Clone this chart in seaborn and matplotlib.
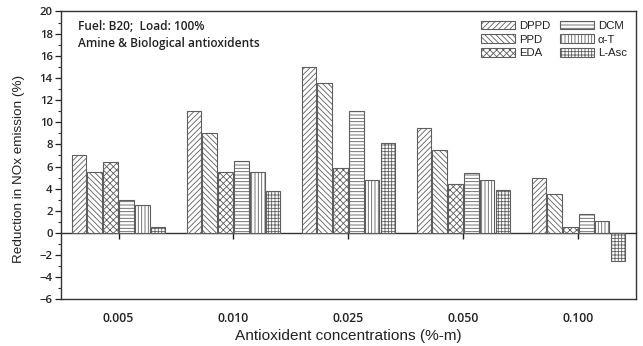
import numpy as np
import pandas as pd
import matplotlib
matplotlib.use("Agg")
import matplotlib.pyplot as plt
from matplotlib.ticker import MultipleLocator
import seaborn as sns

concentrations = ["0.005", "0.010", "0.025", "0.050", "0.100"]
additives = ["DPPD", "PPD", "EDA", "DCM", "\u03b1-T", "L-Asc"]
dppd = [7.0, 11.0, 15.0, 9.45, 5.0]
ppd = [5.5, 9.0, 13.5, 7.5, 3.5]
eda = [6.4, 5.5, 5.85, 4.45, 0.5]
dcm = [3.0, 6.5, 11.0, 5.45, 1.75]
alpha_t = [2.5, 5.5, 4.75, 4.75, 1.05]
l_asc = [0.5, 3.75, 8.15, 3.85, -2.5]
yticks = list(range(-6, 21, 2))

series = [dppd, ppd, eda, dcm, alpha_t, l_asc]
hatches = ["//////", "\\\\\\\\\\\\", "xxxxx", "-----", "|||||", "+++++"]

rows = []
for name, vals in zip(additives, series):
    for c, v in zip(concentrations, vals):
        rows.append({"conc": c, "additive": name, "value": v})
df = pd.DataFrame(rows)

sns.set_style("ticks")
plt.rcParams["hatch.linewidth"] = 0.6
edge = "#5e5e5e"

fig = plt.figure(figsize=(6.43, 3.46), dpi=100)
ax = fig.add_axes([0.0949, 0.1344, 0.8941, 0.8324])

sns.barplot(data=df, x="conc", y="value", hue="additive", order=concentrations,
            hue_order=additives, palette=["white"] * 6, width=0.83, gap=0.1,
            edgecolor=edge, linewidth=0.8, ax=ax, legend=False)

for cont, h in zip(ax.containers, hatches):
    for p in cont:
        p.set_hatch(h)
        p.set_edgecolor(edge)

ax.set_xlim(-0.5, 4.5)
ax.set_ylim(-6, 20)
ax.set_yticks(yticks)
ax.yaxis.set_minor_locator(MultipleLocator(1))
for s in ax.spines.values():
    s.set_visible(True)
    s.set_linewidth(1.0)
    s.set_color("#333333")

ax.tick_params(axis="y", which="major", direction="out", length=4, width=0.9,
               labelsize=8.2, pad=2, colors="#222222")
ax.tick_params(axis="y", which="minor", direction="out", length=2.5, width=0.8, colors="#333333")
ax.tick_params(axis="x", which="both", length=0, labelsize=8.8, pad=9, colors="#222222")
for lab in ax.get_xticklabels() + ax.get_yticklabels():
    lab.set_fontfamily("Open Sans")
    lab.set_fontweight("semibold")

# zero line with ticks at the group centres
zero_frac = (0 - ax.get_ylim()[0]) / (ax.get_ylim()[1] - ax.get_ylim()[0])
sec = ax.secondary_xaxis(zero_frac)
sec.set_xticks(range(len(concentrations)))
sec.set_xticklabels([])
sec.tick_params(direction="out", length=4, width=1.0, colors="#222222")
sec.spines["bottom"].set_linewidth(1.0)
sec.spines["bottom"].set_color("#333333")

ax.set_xlabel("Antioxident concentrations (%-m)", fontfamily="Liberation Sans",
              fontsize=11.1, labelpad=3, color="#222222")
ax.set_ylabel("Reduction in NOx emission (%)", fontfamily="Liberation Sans",
              fontsize=9.7, color="#222222")
ax.yaxis.set_label_coords(-0.063, 0.455)

ax.text(0.03, 0.97, "Fuel: B20;  Load: 100%\nAmine & Biological antioxidents",
        transform=ax.transAxes, va="top", ha="left", fontfamily="Open Sans",
        fontweight="semibold", fontsize=8.6, linespacing=1.38, color="#222222")

handles = [cont[0] for cont in ax.containers]
leg = ax.legend(handles, additives, ncol=2, loc="upper right", frameon=False,
                prop={"family": "Liberation Sans", "size": 8.2},
                handlelength=3.0, handleheight=0.8, handletextpad=0.3,
                columnspacing=0.9, labelspacing=0.3, borderaxespad=0.4)
for t in leg.get_texts():
    t.set_color("#222222")

fig.savefig("out.png", dpi=100)
